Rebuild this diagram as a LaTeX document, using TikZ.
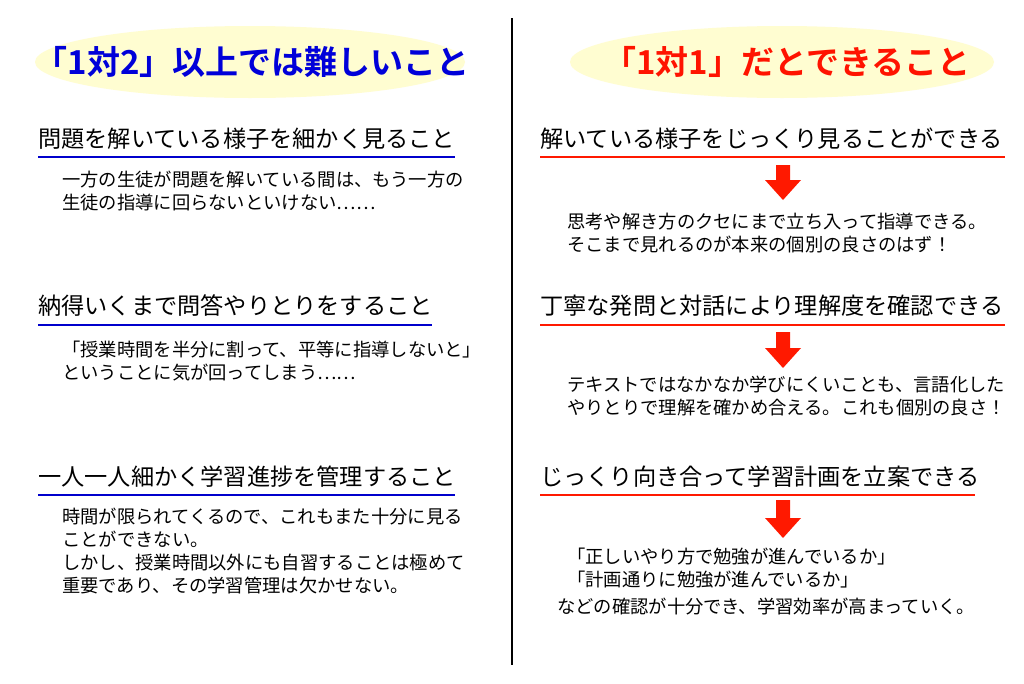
\documentclass[tikz,border=0pt]{standalone}
\usepackage{fontspec}
\setmainfont{Noto Sans CJK JP}
\newfontfamily\jpb{Noto Sans CJK JP Bold}
\begin{document}
\begin{tikzpicture}[x=1pt,y=-1pt,
  hd/.style={anchor=west,inner sep=0pt,font=\fontsize{23.2}{26}\selectfont},
  bd/.style={anchor=north west,inner sep=0pt,align=left,font=\fontsize{18.3}{23}\selectfont},
  ulb/.style={draw=blue!80!black,line width=2.5pt},
  ulr/.style={draw=red!80!orange,line width=2.5pt},
  darr/.style={fill=red!80!orange}]
\useasboundingbox (0,0) rectangle (1024,683);
\fill[white] (0,0) rectangle (1024,683);
\draw[line width=2.5pt] (512,18) -- (512,665);
\fill[yellow!18] (250,62) ellipse (215 and 36);
\fill[yellow!18] (782,62) ellipse (212 and 36);
\node[inner sep=0pt,text=blue!85!black,font=\jpb\fontsize{33}{36}\selectfont] (h1) at (252,62) {「1対2」以上では難しいこと};
\node[inner sep=0pt,text=red!85!orange,font=\jpb\fontsize{33}{36}\selectfont] (h2) at (787,62) {「1対1」だとできること};
% left
\node[hd] (l1) at (38,139) {問題を解いている様子を細かく見ること};
\draw[ulb] (38,157) -- (455,157);
\node[bd] (lb1) at (62,171) {一方の生徒が問題を解いている間は、もう一方の\\生徒の指導に回らないといけない……};
\node[hd] (l2) at (38,306) {納得いくまで問答やりとりをすること};
\draw[ulb] (38,325) -- (432,325);
\node[bd] (lb2) at (62,341) {「授業時間を半分に割って、平等に指導しないと」\\ということに気が回ってしまう……};
\node[hd] (l3) at (38,477) {一人一人細かく学習進捗を管理すること};
\draw[ulb] (38,495) -- (455,495);
\node[bd] (lb3) at (62,508) {時間が限られてくるので、これもまた十分に見る\\ことができない。\\しかし、授業時間以外にも自習することは極めて\\重要であり、その学習管理は欠かせない。};
% right
\node[hd] (r1) at (540,139) {解いている様子をじっくり見ることができる};
\draw[ulr] (540,157) -- (1005,157);
\fill[darr] (776,165) -- (790,165) -- (790,180) -- (801,180) -- (783,200) -- (765,180) -- (776,180) -- cycle;
\node[bd] (rb1) at (567,213) {思考や解き方のクセにまで立ち入って指導できる。\\そこまで見れるのが本来の個別の良さのはず！};
\node[hd] (r2) at (540,306) {丁寧な発問と対話により理解度を確認できる};
\draw[ulr] (540,325) -- (1005,325);
\fill[darr] (776,332) -- (790,332) -- (790,348) -- (801,348) -- (783,368) -- (765,348) -- (776,348) -- cycle;
\node[bd] (rb2) at (567,376) {テキストではなかなか学びにくいことも、言語化した\\やりとりで理解を確かめ合える。これも個別の良さ！};
\node[hd] (r3) at (540,477) {じっくり向き合って学習計画を立案できる};
\draw[ulr] (540,495) -- (975,495);
\fill[darr] (776,500) -- (790,500) -- (790,518) -- (801,518) -- (783,538) -- (765,518) -- (776,518) -- cycle;
\node[bd] (rb3) at (567,548) {「正しいやり方で勉強が進んでいるか」\\「計画通りに勉強が進んでいるか」};
\node[bd] (rb4) at (557,598) {などの確認が十分でき、学習効率が高まっていく。};
\end{tikzpicture}
\end{document}
